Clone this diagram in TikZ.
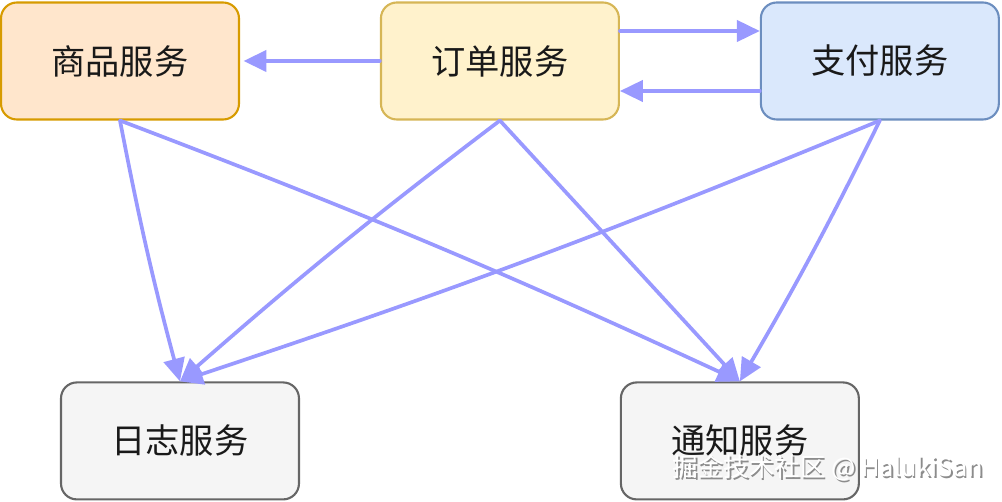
\documentclass[tikz,border=0pt]{standalone}
\usepackage{fontspec}
\usepackage{xcolor}
\usepackage{tikz}
\usetikzlibrary{positioning, arrows.meta}
\newfontfamily\cjk{Noto Sans CJK SC}

\definecolor{linkc}{HTML}{9999FF}
\definecolor{goodsfill}{HTML}{FFE6CC}
\definecolor{goodsline}{HTML}{D79B00}
\definecolor{orderfill}{HTML}{FFF2CC}
\definecolor{orderline}{HTML}{D6B656}
\definecolor{payfill}{HTML}{DAE8FC}
\definecolor{payline}{HTML}{6C8EBF}
\definecolor{greyfill}{HTML}{F5F5F5}
\definecolor{greyline}{HTML}{666666}

\tikzset{
  svc/.style={draw, line width=1.2pt, rounded corners=9pt,
    minimum width=4.76cm, minimum height=2.34cm,
    font=\cjk\fontsize{19.5}{22}\selectfont, text=black!90},
  link/.style={draw=linkc, line width=2.1pt, line cap=round,
    -{Triangle[length=13pt, width=12pt]}},
}

\begin{document}
\begin{tikzpicture}[x=0.02cm, y=-0.02cm, node distance=7.6cm, on grid]
   \useasboundingbox (0,0) rectangle (1002,502);

   \node[svc, fill=goodsfill, draw=goodsline] (goods) at (120,61) {商品服务};
   \node[svc, fill=orderfill, draw=orderline] (order) [right=of goods] {订单服务};
   \node[svc, fill=payfill, draw=payline] (pay) [right=of order] {支付服务};
   \node[svc, fill=greyfill, draw=greyline] (log) [below right=7.6cm and 1.2cm of goods] {日志服务};
   \node[svc, fill=greyfill, draw=greyline] (notice) [right=11.2cm of log] {通知服务};

   % top row
   \draw[link] (order.west) -- ([xshift=2pt]goods.east);
   \draw[link] ([yshift=0.6cm]order.east) -- ([yshift=0.6cm]pay.west);
   \draw[link] ([yshift=-0.6cm]pay.west) -- ([yshift=-0.6cm]order.east);

   % to log / notice
   \draw[link] (goods.south) to[bend right=2] (log.north);
   \draw[link] (goods.south) to[bend left=2] (notice.north);
   \draw[link] (order.south) to[bend right=2] (log.north);
   \draw[link] (order.south) -- (notice.north);
   \draw[link] (pay.south) to[bend left=2] (log.north);
   \draw[link] (pay.south) to[bend left=2] (notice.north);

   % watermark
   \node[font=\cjk\fontsize{14.5}{16}\selectfont, text=black!45] (markshadow) at (829.5,469.5) {掘金技术社区 @ HalukiSan};
   \node[font=\cjk\fontsize{14.5}{16}\selectfont, text=white] (mark) at (828,468) {掘金技术社区 @ HalukiSan};
\end{tikzpicture}
\end{document}
